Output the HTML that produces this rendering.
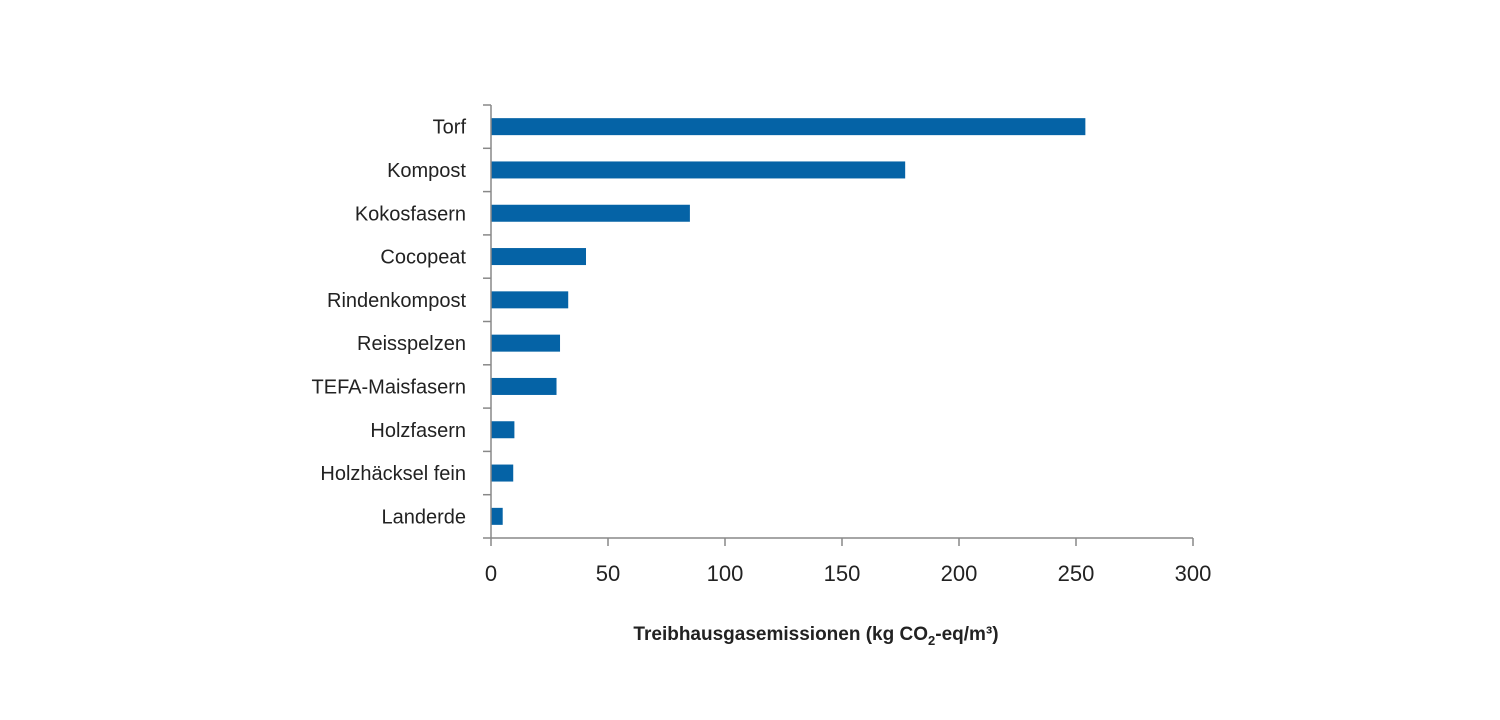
<!DOCTYPE html>
<html><head><meta charset="utf-8"><style>
body{margin:0;background:#fff;}
svg{display:block;font-family:"Liberation Sans",sans-serif;}
</style></head><body>
<svg id="c" width="1500" height="720"></svg>
<script>
const categories=["Torf","Kompost","Kokosfasern","Cocopeat","Rindenkompost","Reisspelzen","TEFA-Maisfasern","Holzfasern","Holzhäcksel fein","Landerde"];
const values=[254,177,85,40.6,33,29.5,28,10,9.5,5];
const xTicks=[0,50,100,150,200,250,300];
const NS="http://www.w3.org/2000/svg";
const svg=document.getElementById('c');
const x0=491,x1=1193,yTop=105,yBot=538,xMax=300;
const xs=v=>x0+(x1-x0)*v/xMax;
const band=(yBot-yTop)/categories.length;
function mk(t,a,p){const e=document.createElementNS(NS,t);for(const k in a)e.setAttribute(k,a[k]);(p||svg).appendChild(e);return e;}
categories.forEach((c,i)=>{
  const cy=yTop+band*(i+0.5);
  const r=mk('rect',{x:x0,y:cy-8.5,width:xs(values[i])-x0,height:17,fill:'#0563a6'});
  
  
  const t=mk('text',{x:466,y:cy+7,'text-anchor':'end','font-size':'20',fill:'#222'});
  t.textContent=c;
  
  
});
for(let i=0;i<=categories.length;i++){
  const y=yTop+band*i;
  const l=mk('line',{x1:483,x2:x0,y1:y,y2:y,stroke:'#888','stroke-width':1.5});
  
  
}
const ya=mk('line',{x1:x0,x2:x0,y1:yTop,y2:yBot,stroke:'#888','stroke-width':1.5});


const xa=mk('line',{x1:x0,x2:x1,y1:yBot,y2:yBot,stroke:'#888','stroke-width':1.5});


xTicks.forEach(v=>{
  const l=mk('line',{x1:xs(v),x2:xs(v),y1:yBot,y2:yBot+8,stroke:'#888','stroke-width':1.5});
  
  
  const t=mk('text',{x:xs(v),y:581,'text-anchor':'middle','font-size':'22',fill:'#222'});
  t.textContent=v;
  
  
});
const tt=mk('text',{x:816,y:640,'text-anchor':'middle','font-size':'19','font-weight':'bold',fill:'#222'});


tt.innerHTML='Treibhausgasemissionen (kg CO<tspan font-size="13" dy="5">2</tspan><tspan dy="-5">-eq/m³)</tspan>';
</script>
</body></html>
